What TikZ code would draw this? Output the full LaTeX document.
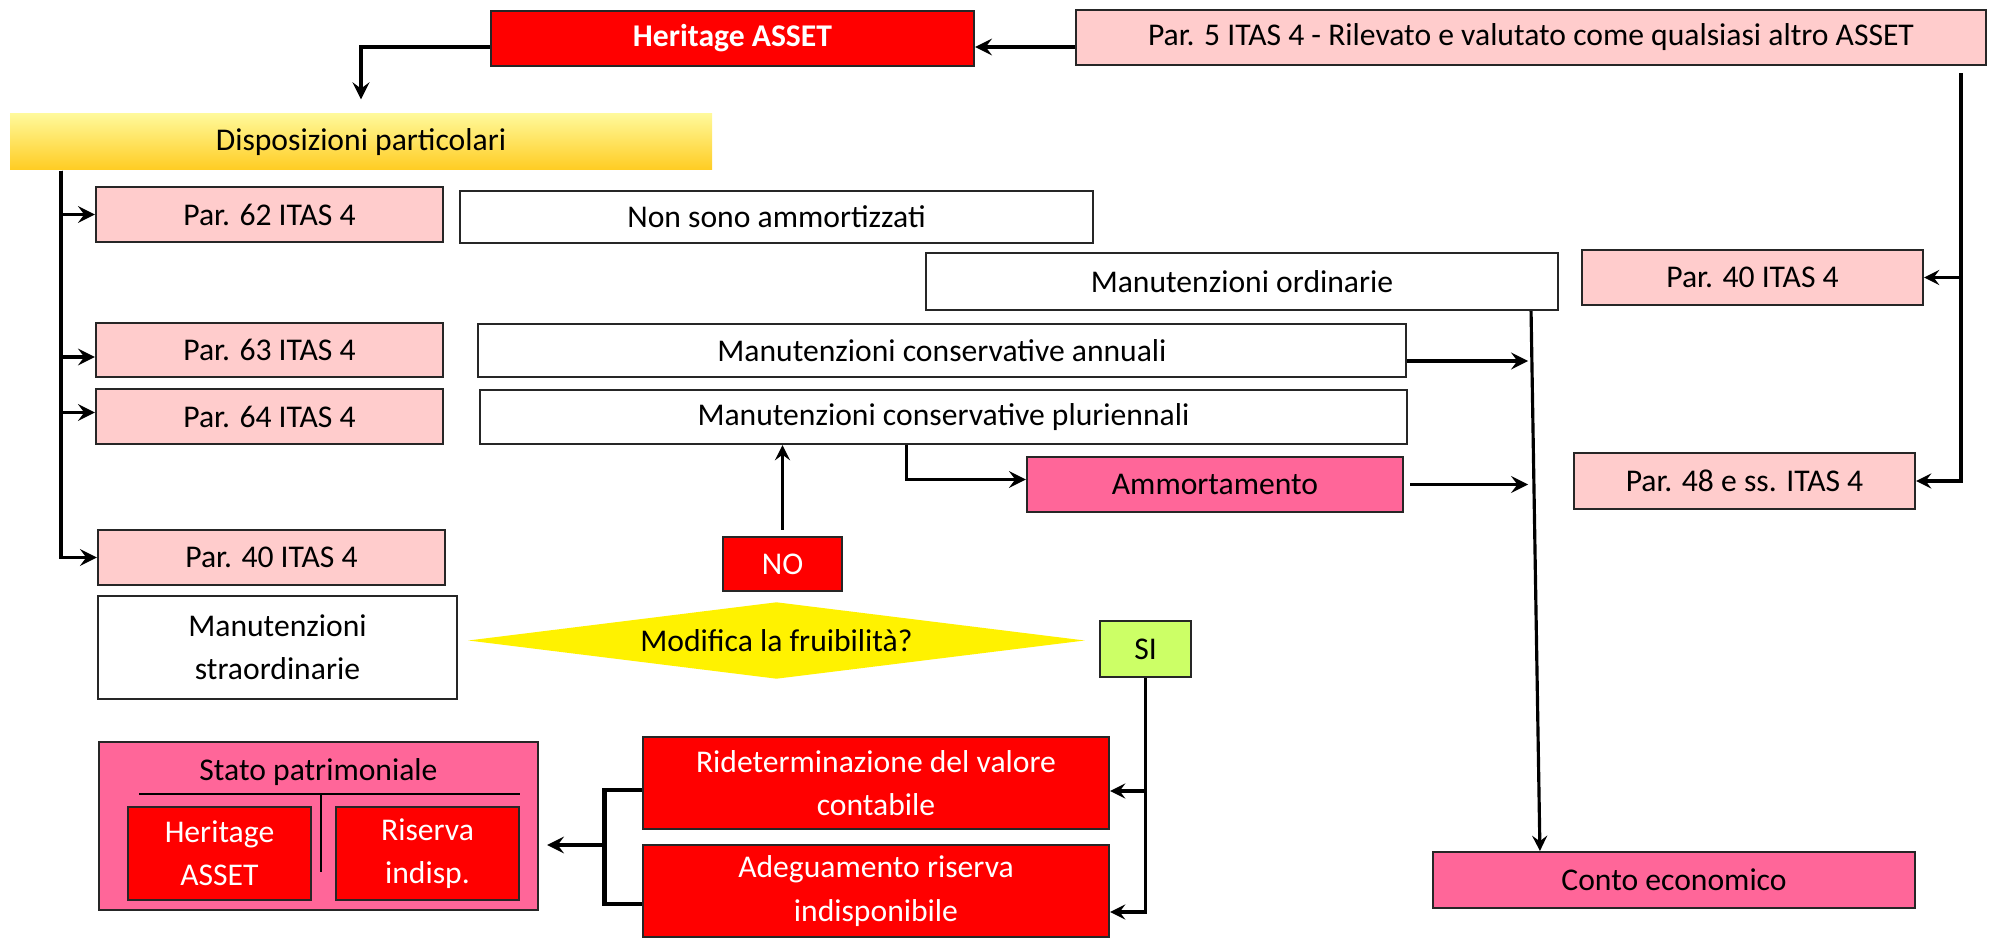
\documentclass[tikz,border=0pt]{standalone}
\usepackage{fontspec}
\setmainfont{Carlito}
\usepackage{tikz}
\usetikzlibrary{shapes.geometric, arrows}
\definecolor{itaspink}{HTML}{FFCCCC}
\definecolor{hotpink}{HTML}{FF6699}
\definecolor{sigreen}{HTML}{CCFF66}
\definecolor{dispotop}{HTML}{FFF99A}
\definecolor{dispobot}{HTML}{FFCC22}
\tikzstyle{box} = [rectangle, draw=black!85, line width=0.6pt, inner sep=0pt, text centered, align=center]
\tikzstyle{itas} = [box, fill=itaspink]
\tikzstyle{whitebox} = [box, fill=white]
\tikzstyle{redbox} = [box, fill=red, text=white]
\tikzstyle{pinkbox} = [box, fill=hotpink]
\tikzstyle{arrow} = [line width=1.1pt,->,>=stealth]
\tikzstyle{thinarrow} = [line width=0.9pt,->,>=stealth]
\tikzstyle{bracket} = [line width=1.4pt]

\begin{document}
\begin{tikzpicture}[x=0.1mm, y=-0.1mm, font=\fontsize{9pt}{12.3pt}\selectfont]
\useasboundingbox (0,0) rectangle (1990,938);

\node (heritage) [redbox, minimum width=48.3mm, minimum height=5.5mm, font=\fontsize{9pt}{12.3pt}\selectfont\bfseries] at (732.5,38.5) {Heritage ASSET};
\node (par5) [itas, minimum width=91mm, minimum height=5.5mm] at (1531,37.5) {Par. 5 ITAS 4 - Rilevato e valutato come qualsiasi altro ASSET};
\node (dispo) [minimum width=70.2mm, minimum height=5.6mm, inner sep=0pt, top color=dispotop, bottom color=dispobot] at (361,142) {Disposizioni particolari};
\node (p62) [itas, minimum width=34.7mm, minimum height=5.5mm] at (269.5,214.5) {Par. 62 ITAS 4};
\node (nonsono) [whitebox, minimum width=63.3mm, minimum height=5.2mm] at (776.5,217) {Non sono ammortizzati};
\node (ordin) [whitebox, minimum width=63.2mm, minimum height=5.7mm] at (1242,281.5) {Manutenzioni ordinarie};
\node (p40r) [itas, minimum width=34.1mm, minimum height=5.5mm] at (1752.5,277.5) {Par. 40 ITAS 4};
\node (p63) [itas, minimum width=34.7mm, minimum height=5.4mm] at (269.5,350) {Par. 63 ITAS 4};
\node (annuali) [whitebox, minimum width=92.8mm, minimum height=5.3mm] at (942,350.5) {Manutenzioni conservative annuali};
\node (p64) [itas, minimum width=34.7mm, minimum height=5.5mm] at (269.5,416.5) {Par. 64 ITAS 4};
\node (plur) [whitebox, minimum width=92.7mm, minimum height=5.4mm] at (943.5,417) {Manutenzioni conservative pluriennali};
\node (amm) [pinkbox, minimum width=37.6mm, minimum height=5.5mm] at (1215,484.5) {Ammortamento};
\node (p48) [itas, minimum width=34.1mm, minimum height=5.6mm] at (1744.5,481) {Par. 48 e ss. ITAS 4};
\node (p40) [itas, minimum width=34.7mm, minimum height=5.5mm] at (271.5,557.5) {Par. 40 ITAS 4};
\node (no) [redbox, minimum width=11.9mm, minimum height=5.4mm] at (782.5,564) {NO};
\node (straord) [whitebox, minimum width=35.9mm, minimum height=10.3mm] at (277.5,647.5) {Manutenzioni\\straordinarie};
\node (fruib) [diamond, fill=yellow, shape aspect=8, inner sep=0pt, minimum width=61.7mm, minimum height=7.7mm] at (776.5,640.5) {Modifica la fruibilità?};
\node (si) [box, fill=sigreen, minimum width=9.1mm, minimum height=5.6mm] at (1145.5,649) {SI};
\node (ridet) [redbox, minimum width=46.6mm, minimum height=9.2mm] at (876,783) {Rideterminazione del valore\\contabile};
\node (adeg) [redbox, minimum width=46.6mm, minimum height=9.2mm] at (876,891) {Adeguamento riserva\\indisponibile};
\node (conto) [pinkbox, minimum width=48.2mm, minimum height=5.6mm] at (1674,880) {Conto economico};
\node (stato) [pinkbox, minimum width=43.9mm, minimum height=16.8mm] at (318.5,826) {};
\node (statotit) at (318.5,772) {Stato patrimoniale};
\node (hass) [redbox, minimum width=18.3mm, minimum height=9.3mm] at (219.5,853.5) {Heritage\\ASSET};
\node (riserva) [redbox, minimum width=18.3mm, minimum height=9.3mm] at (427.5,853.5) {Riserva\\indisp.};
\draw [line width=0.6pt] (139,794) -- (520,794);
\draw [line width=0.6pt] (321,794) -- (321,872);

\coordinate (bus) at ([xshift=5.2mm]dispo.south west);
\coordinate (rbus) at ([xshift=-2.6mm, yshift=-0.7mm]par5.south east);
\coordinate (ce) at ([xshift=-3.1mm]ordin.south east);
\coordinate (brk) at ([xshift=-3.7mm, yshift=-0.7mm]ridet.west);

\draw [arrow] ([yshift=-0.95mm]par5.west) -- ([yshift=-0.95mm]par5.west -| heritage.east);
\draw [arrow] ([yshift=-0.85mm]heritage.west) -| ([yshift=1.4mm]dispo.north);
\draw [arrow] (bus) |- (p62.west);
\draw [arrow] (bus) |- ([yshift=-0.7mm]p63.west);
\draw [arrow] (bus) |- ([yshift=0.4mm]p64.west);
\draw [arrow] (bus) |- (p40.west);
\draw [thinarrow] (rbus) |- (p40r.east);
\draw [thinarrow] (rbus) |- (p48.east);
\draw [thinarrow] ([xshift=-2.8mm]ordin.south east) -- ([xshift=10.8mm]conto.north west);
\draw [arrow] ([yshift=-1.05mm]annuali.east) -- ([yshift=-1.05mm]annuali.east -| ce);
\draw [arrow] ([xshift=0.6mm]amm.east) -- (amm.east -| ce);
\draw [arrow] ([xshift=-3.7mm]plur.south) |- ([yshift=0.5mm]amm.west);
\draw [thinarrow] ([yshift=0.6mm]no.north) -- (no.north |- plur.south);
\draw [thinarrow] (si.south) |- ([yshift=-0.8mm]ridet.east);
\draw [thinarrow] (si.south) |- ([yshift=-2.1mm]adeg.east);
\draw [bracket] ([yshift=-0.7mm]ridet.west) -- (brk) |- ([yshift=-1.3mm]adeg.west);
\draw [arrow] ([yshift=-1.9mm]brk |- stato.east) -- ([xshift=0.8mm, yshift=-1.9mm]stato.east);
\end{tikzpicture}
\end{document}
